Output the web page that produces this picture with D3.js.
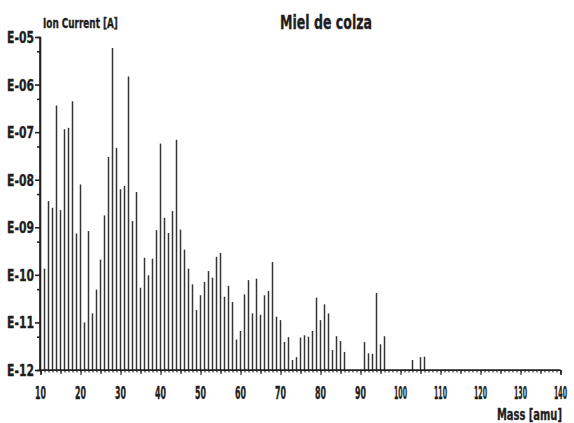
<!DOCTYPE html>
<html>
<head>
<meta charset="utf-8">
<script src="https://cdn.jsdelivr.net/npm/d3@7"></script>
<style>
  body { margin: 0; background: #fff; }
  svg text { font-family: "Liberation Sans Narrow", "Arial Narrow", "DejaVu Sans Condensed", sans-serif; font-weight: bold; fill: #1e1e1e; stroke: #1e1e1e; stroke-width: 0.35; }
</style>
</head>
<body>
<section></section>
<script>
// mass peaks (amu)
const masses = [
  11, 12, 13, 14, 15, 16, 17, 18, 19, 20,
  21, 22, 23, 24, 25, 26, 27, 28, 29, 30,
  31, 32, 33, 34, 35, 36, 37, 38, 39, 40,
  41, 42, 43, 44, 45, 46, 47, 48, 49, 50,
  51, 52, 53, 54, 55, 56, 57, 58, 59, 60,
  61, 62, 63, 64, 65, 66, 67, 68, 69, 70,
  71, 72, 73, 74, 75, 76, 77, 78, 79, 80,
  81, 82, 83, 84, 85, 86, 91, 92, 93, 94,
  95, 96, 103, 105, 106
];
// ion current [A]
const current = [
  1.35e-10, 3.55e-9, 2.57e-9, 3.63e-7, 2.29e-9, 1.15e-7, 1.23e-7, 4.47e-7, 7.41e-10, 7.94e-9,
  1.0e-11, 8.32e-10, 1.55e-11, 4.9e-11, 2.09e-10, 1.78e-9, 3.02e-8, 5.89e-6, 4.68e-8, 6.31e-9,
  7.41e-9, 1.48e-6, 1.35e-9, 5.5e-9, 5.37e-11, 2.29e-10, 9.77e-11, 2.19e-10, 8.71e-10, 5.75e-8,
  1.58e-9, 7.59e-10, 2.19e-9, 6.92e-8, 8.91e-10, 3.39e-10, 1.35e-10, 6.31e-11, 1.82e-11, 3.72e-11,
  7.08e-11, 1.2e-10, 8.71e-11, 2.4e-10, 2.88e-10, 3.47e-11, 5.89e-11, 2.69e-11, 4.37e-12, 6.61e-12,
  3.89e-11, 7.76e-11, 1.55e-11, 8.32e-11, 1.45e-11, 3.72e-11, 4.57e-11, 1.86e-10, 1.32e-11, 1.12e-11,
  3.89e-12, 4.9e-12, 1.62e-12, 1.86e-12, 4.79e-12, 5.37e-12, 5.01e-12, 6.61e-12, 3.31e-11, 1.12e-11,
  2.4e-11, 1.55e-11, 2.63e-12, 5.13e-12, 4.07e-12, 2.4e-12, 3.89e-12, 2.24e-12, 2.19e-12, 4.17e-11,
  3.47e-12, 5.13e-12, 1.62e-12, 1.86e-12, 1.91e-12
];
const yTicks = [1e-12, 1e-11, 1e-10, 1e-9, 1e-8, 1e-7, 1e-6, 1e-5];
const yLabels = ["E-12", "E-11", "E-10", "E-09", "E-08", "E-07", "E-06", "E-05"];
const xTicks = [10, 20, 30, 40, 50, 60, 70, 80, 90, 100, 110, 120, 130, 140];

const width = 574, height = 423;
const svg = d3.select("section").append("svg")
  .attr("width", width)
  .attr("height", height);

const x = d3.scaleLinear().domain([10, 140]).range([40.5, 560.5]);
const y = d3.scaleLog().domain([1e-12, 1e-5]).range([370, 37]);

// squeeze a label to a given width (the original font is a heavy narrow face)
function label(g, txt, px, py, size, w, anchor) {
  const t = g.append("text")
    .attr("font-size", size)
    .attr("text-anchor", anchor || "start")
    .text(txt);
  const len = t.node().getComputedTextLength();
  t.attr("transform", `translate(${px},${py}) scale(${w / len},1)`);
  return t;
}

// bars
svg.append("g")
  .selectAll("line")
  .data(masses)
  .enter()
  .append("line")
  .attr("x1", d => x(d))
  .attr("x2", d => x(d))
  .attr("y1", y(1e-12))
  .attr("y2", (d, i) => y(current[i]))
  .attr("stroke", "#353535")
  .attr("stroke-width", 1.5);

// y axis
const yAxis = svg.append("g").attr("transform", `translate(${x(10) - 0.5},0)`);
yAxis.call(d3.axisLeft(y).tickValues(yTicks).tickSize(5).tickFormat(""));
yAxis.append("g").call(d3.axisLeft(y).tickValues(yTicks.slice(0, -1).map(v => v * 5)).tickSize(3).tickFormat(""));
yAxis.selectAll("path, line").attr("stroke", "#222").attr("stroke-width", 1.6);
yAxis.select(".domain").attr("d", `M0,${y(1e-5)}V${y(1e-12)}`);

const yl = svg.append("g");
yTicks.forEach((d, i) => label(yl, yLabels[i], 34, y(d) + 6, 16, 27, "end"));

// x axis
const xAxis = svg.append("g").attr("transform", `translate(0,${y(1e-12)})`);
xAxis.call(d3.axisBottom(x).ticks(130).tickSize(2.5).tickFormat(""));
xAxis.append("g").call(d3.axisBottom(x).tickValues(d3.range(15, 140, 10)).tickSize(4).tickFormat(""));
xAxis.append("g").call(d3.axisBottom(x).tickValues(xTicks).tickSize(5).tickFormat(""));
xAxis.selectAll("path, line").attr("stroke", "#222");
xAxis.selectAll("line").attr("stroke-width", 1.1);
xAxis.select(".domain").attr("stroke-width", 1.7).attr("d", `M${x(10) - 1},0H${x(140)}`);

const xl = svg.append("g");
xTicks.forEach(d => label(xl, d, x(d), 399, 18, d >= 100 ? 13 : 11, "middle"));

// titles
label(svg, "Miel de colza", 280, 29, 20, 92);
label(svg, "Ion Current [A]", 43, 28, 14, 75);
label(svg, "Mass [amu]", 497, 420, 15, 65);
</script>
</body>
</html>
